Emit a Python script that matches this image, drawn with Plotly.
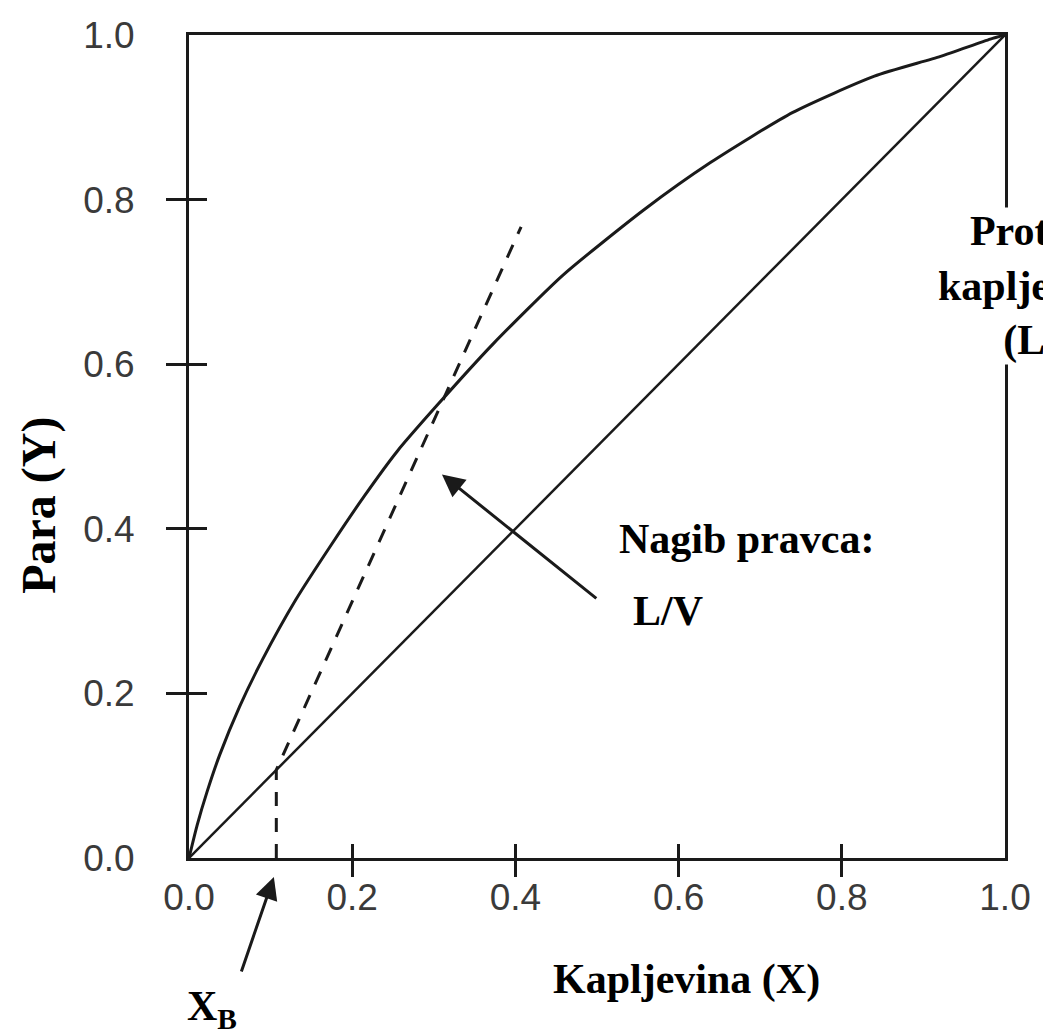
import plotly.graph_objects as go

# ---- data ----
eq_x = [0, 0.01, 0.022, 0.0375, 0.062, 0.09, 0.131, 0.174, 0.215, 0.255, 0.304, 0.373,
        0.458, 0.558, 0.639, 0.74, 0.84, 0.921, 0.982, 1.0]
eq_y = [0, 0.04, 0.08, 0.125, 0.184, 0.241, 0.314, 0.38, 0.44, 0.494, 0.55, 0.625,
        0.708, 0.788, 0.845, 0.906, 0.95, 0.974, 0.995, 1.0]
diag_x = [0, 1]
diag_y = [0, 1]
op_x = [0.107, 0.107, 0.407]
op_y = [0.0, 0.107, 0.767]
tick_vals = [0, 0.2, 0.4, 0.6, 0.8, 1.0]
tick_text = ["0.0", "0.2", "0.4", "0.6", "0.8", "1.0"]
mid_ticks = [0.2, 0.4, 0.6, 0.8]

SERIF = "Liberation Serif, Times New Roman, serif"
SANS = "Liberation Sans, Arial, sans-serif"
LINE = "#1a1a1a"

fig = go.Figure()
fig.add_trace(go.Scatter(x=eq_x, y=eq_y, mode="lines",
                         line=dict(color=LINE, width=3, shape="spline", smoothing=0.6),
                         hoverinfo="skip"))
fig.add_trace(go.Scatter(x=diag_x, y=diag_y, mode="lines",
                         line=dict(color=LINE, width=2.5), hoverinfo="skip"))
fig.add_trace(go.Scatter(x=op_x, y=op_y, mode="lines",
                         line=dict(color=LINE, width=3, dash="14px,12px"), hoverinfo="skip"))
# invisible traces to carry the tick-only overlay axes
fig.add_trace(go.Scatter(x=diag_x, y=diag_y, xaxis="x2", yaxis="y2", mode="lines",
                         opacity=0, hoverinfo="skip"))
fig.add_trace(go.Scatter(x=diag_x, y=diag_y, xaxis="x3", yaxis="y3", mode="lines",
                         opacity=0, hoverinfo="skip"))

base_ax = dict(range=[0, 1], showgrid=False, zeroline=False, fixedrange=True)

fig.update_layout(
    width=1043, height=1035,
    margin=dict(l=189, r=28, t=35, b=177),
    paper_bgcolor="white", plot_bgcolor="white",
    showlegend=False,
    xaxis=dict(**base_ax, showline=True, linecolor=LINE, linewidth=3, mirror=True,
               ticks="", tickvals=tick_vals, ticktext=tick_text,
               tickfont=dict(family=SANS, size=37, color="#3a3a3a"),
               ticklabelstandoff=5),
    yaxis=dict(**base_ax, showline=True, linecolor=LINE, linewidth=3, mirror=True,
               ticks="", tickvals=tick_vals, ticktext=tick_text,
               tickfont=dict(family=SANS, size=37, color="#3a3a3a"),
               ticklabelstandoff=44),
    xaxis2=dict(**base_ax, overlaying="x", anchor="y2", showline=False, ticks="outside",
                ticklen=18, tickwidth=2.5, tickcolor=LINE, tickvals=mid_ticks,
                showticklabels=False),
    yaxis2=dict(**base_ax, overlaying="y", anchor="x2", showline=False, ticks="outside",
                ticklen=22, tickwidth=2.5, tickcolor=LINE, tickvals=mid_ticks,
                showticklabels=False),
    xaxis3=dict(**base_ax, overlaying="x", anchor="y3", showline=False, ticks="inside",
                ticklen=14, tickwidth=2.5, tickcolor=LINE, tickvals=mid_ticks,
                showticklabels=False),
    yaxis3=dict(**base_ax, overlaying="y", anchor="x3", showline=False, ticks="inside",
                ticklen=18, tickwidth=2.5, tickcolor=LINE, tickvals=mid_ticks,
                showticklabels=False),
)

serif_font = dict(family=SERIF, size=42, color="black")

annotations = [
    dict(x=0.524, y=0.387, xref="paper", yref="paper", text="<b>Nagib pravca:</b>",
         showarrow=False, xanchor="left", yanchor="middle", font=serif_font),
    dict(x=0.542, y=0.300, xref="paper", yref="paper", text="<b>L/V</b>",
         showarrow=False, xanchor="left", yanchor="middle", font=serif_font),
    dict(x=0.61, y=-0.148, xref="paper", yref="paper", text="<b>Kapljevina (X)</b>",
         showarrow=False, xanchor="center", yanchor="middle", font=serif_font),
    dict(x=0.028, y=-0.183, xref="paper", yref="paper", text="<b>X<sub>B</sub></b>",
         showarrow=False, xanchor="center", yanchor="middle", font=serif_font),
    dict(x=-0.184, y=0.429, xref="paper", yref="paper", text="<b>Para (Y)</b>",
         textangle=-90, showarrow=False, xanchor="center", yanchor="middle",
         font=dict(family=SERIF, size=48, color="black")),
    dict(x=1.033, y=0.791, xref="paper", yref="paper",
         text="<b>Protok<br>kapljevine<br>(L)</b>", align="center",
         showarrow=False, xanchor="center", yanchor="top", bgcolor="white",
         borderpad=0, font=serif_font),
    # arrows
    dict(x=0.31, y=0.466, xref="x", yref="y", ax=0.501, ay=0.314, axref="x", ayref="y",
         text="", showarrow=True, arrowhead=2, arrowsize=1.5, arrowwidth=3,
         arrowcolor=LINE),
    dict(x=0.104, y=-0.023, xref="paper", yref="paper", ax=-33, ay=96,
         text="", showarrow=True, arrowhead=2, arrowsize=1.5, arrowwidth=3,
         arrowcolor=LINE),
]
fig.update_layout(annotations=annotations)

fig.write_html("out.html")
